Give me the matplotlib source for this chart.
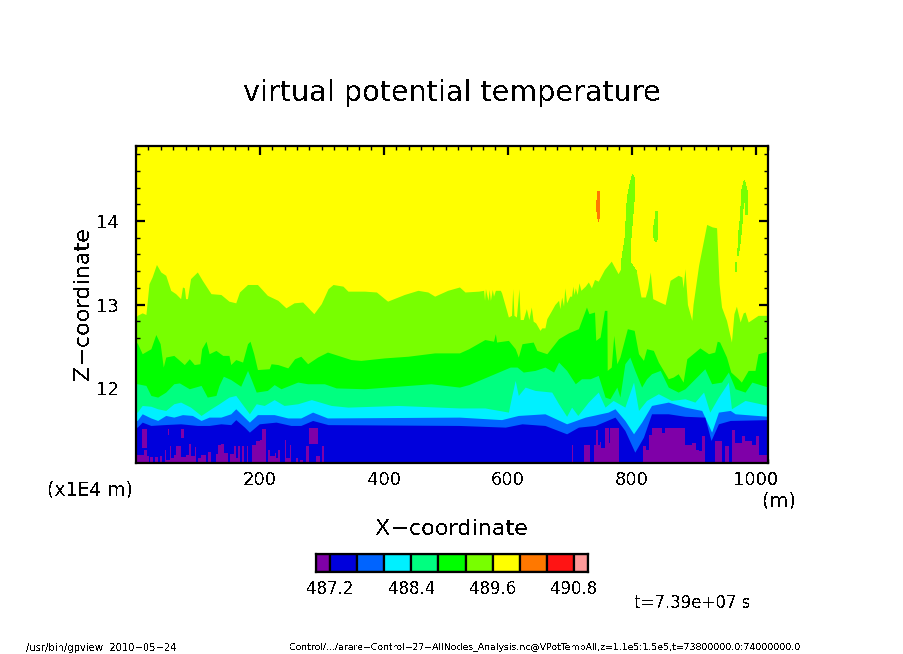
import matplotlib
matplotlib.use("Agg")
import matplotlib.pyplot as plt
from matplotlib.ticker import MultipleLocator

# contour-band colours, low to high
band_colors = ["#7f00a8", "#0000dc", "#0064ff", "#00f0ff", "#00ff80", "#00ff00",
               "#78ff00", "#ffff00", "#ff7800", "#ff1414", "#ff9999"]
levels = [487.2, 487.6, 488.0, 488.4, 488.8, 489.2, 489.6, 490.0, 490.4, 490.8]
level_ticks = [487.2, 488.4, 489.6, 490.8]
x_ticks = [200, 400, 600, 800, 1000]

# top of lime band (x in m, z in 1e4 m)
lime_x = [0,2,10,16,21,26,33,40,48,56,64,72,75,78,80,83,88,99,107,121,137,150,161,167,180,196,212,229,242,255,269,287,299,310,318,334,342,369,388,406,433,455,471,482,503,522,531,553,561,562.5,564,566,568,570,572,575,577,580,588,590,598,601,606,608,610,614,618,620,625,630,634,638,641,645,652,655,660,663,670,676,682,684,687,690,692,695,700,703,705,707,709,712,715,718,725,730,735,740,746,756,767,778,784,790,800,808,815,822,826,830,834,845,854,862,875,881,883,886,890,897,899,908,921,930,937,941,945,953,961,965,969,975,980,983,988,1004,1020]
lime_z = [12.85,12.87,12.90,12.88,13.25,13.33,13.48,13.39,13.35,13.17,13.13,13.07,13.21,13.2,13.07,13.07,13.31,13.39,13.29,13.13,13.12,13.04,13.02,13.15,13.24,13.24,13.11,13.05,12.96,13.02,13.03,12.89,13.01,13.19,13.24,13.22,13.16,13.16,13.15,13.04,13.12,13.17,13.15,13.10,13.17,13.21,13.15,13.16,13.17,13.05,13.19,13.12,13.05,13.18,13.05,13.18,13.1,13.17,13.17,13.14,12.93,12.85,12.87,13.19,12.87,12.85,13.19,12.82,12.82,12.95,12.82,12.97,12.8,12.78,12.69,12.72,12.72,12.83,12.92,13.0,13.05,12.95,13.09,12.98,13.2,13.02,13.1,13.1,13.22,13.12,13.2,13.12,13.26,13.17,13.22,13.27,13.2,13.3,13.28,13.42,13.52,13.37,13.45,13.4,13.4,13.38,13.09,13.09,13.2,13.39,13.07,13.03,13.0,13.29,13.35,13.33,13.2,13.43,13.0,12.81,13.0,13.47,13.96,13.93,13.92,13.25,12.97,12.81,12.55,12.89,12.98,12.79,12.9,12.91,12.79,12.87,12.87]

# top of green band
green_x = [0,2,10,24,32,39,44,48,61,78,86,94,103,106,113,118,129,140,150,153,161,172,180,184,190,196,215,218,229,245,256,266,277,293,309,326,347,363,401,439,482,522,537,563,577,580,582,601,612,617,623,641,647,663,682,698,714,727,731,740,742,749,756,760,760.5,767,771,776,781,793,804,811,819,824,835,843,859,867,875,883,889,902,910,924,934,938,942,953,960,972,977,988,999,1004,1020]
green_z = [12.54,12.54,12.41,12.47,12.64,12.53,12.25,12.37,12.39,12.28,12.35,12.28,12.29,12.47,12.56,12.41,12.45,12.39,12.39,12.28,12.34,12.31,12.53,12.56,12.41,12.22,12.23,12.29,12.28,12.24,12.35,12.38,12.29,12.37,12.43,12.39,12.34,12.33,12.36,12.38,12.42,12.42,12.47,12.58,12.56,12.65,12.55,12.57,12.47,12.37,12.53,12.55,12.45,12.41,12.59,12.66,12.71,12.97,12.89,12.91,12.57,12.61,12.93,12.93,12.21,12.25,12.63,12.29,12.37,12.71,12.69,12.41,12.33,12.47,12.45,12.31,12.11,12.13,12.17,12.07,12.35,12.43,12.48,12.41,12.43,12.56,12.55,12.37,12.19,12.11,12.07,12.21,12.21,12.41,12.44]

# top of spring-green band
spring_x = [0,2,16,24,35,48,61,70,86,105,115,129,134,141,153,169,180,185,194,212,223,234,261,277,304,323,369,422,476,522,537,569,604,615,625,644,660,674,682,695,709,719,733,746,757,765,776,781,789,797,805,816,824,832,846,859,875,886,902,918,929,945,956,967,983,994,1020]
spring_z = [12.05,12.05,12.03,11.91,11.89,11.95,12.05,12.06,11.99,12.03,11.89,11.91,12.03,12.14,12.10,12.02,12.21,12.12,11.95,11.97,12.04,11.99,12.07,12.05,12.05,12.0,11.99,12.02,12.05,12.01,12.04,12.14,12.25,12.25,12.19,12.21,12.25,12.19,12.31,12.21,12.05,12.11,12.11,12.15,11.89,11.87,12.01,11.89,12.29,12.37,12.21,12.01,12.11,12.17,12.21,12.01,11.95,11.99,12.11,12.23,12.05,12.07,12.19,11.99,11.95,12.07,12.01]

# top of cyan band
cyan_x = [0,2,10,24,35,48,61,72,88,105,121,134,150,161,175,183,194,207,223,239,261,283,315,342,423,522,563,601,606,612,617,628,644,671,682,695,703,713,730,746,757,770,789,803,811,824,843,864,886,902,916,926,940,956,961,983,1020]
cyan_z = [11.71,11.71,11.79,11.78,11.75,11.73,11.81,11.83,11.77,11.67,11.75,11.81,11.89,11.91,11.77,11.69,11.81,11.79,11.86,11.79,11.81,11.86,11.79,11.77,11.79,11.76,11.76,11.71,11.89,12.09,11.91,12.01,11.97,11.95,11.81,11.66,11.77,11.67,11.83,11.95,11.77,11.85,11.77,12.07,11.73,11.85,11.93,11.85,11.87,11.83,11.95,11.71,11.89,12.07,11.75,11.85,11.79]

# top of azure band
azure_x = [0,2,10,24,35,48,61,75,91,105,118,137,153,161,172,183,196,223,245,266,285,309,522,590,617,660,695,725,762,773,789,803,816,832,859,886,913,929,940,959,967,1020]
azure_z = [11.61,11.61,11.69,11.64,11.61,11.67,11.65,11.68,11.67,11.61,11.65,11.65,11.69,11.75,11.67,11.59,11.68,11.68,11.64,11.64,11.71,11.64,11.65,11.62,11.67,11.69,11.57,11.65,11.71,11.75,11.61,11.45,11.59,11.79,11.83,11.77,11.73,11.47,11.71,11.73,11.69,11.66]

# top of dark-blue band
blue_x = [0,2,10,24,45,72,99,118,137,153,161,175,183,199,226,250,266,285,310,522,596,623,660,695,714,741,773,789,805,819,832,859,886,918,928,940,959,1020]
blue_z = [11.53,11.53,11.59,11.55,11.56,11.57,11.55,11.55,11.57,11.56,11.62,11.53,11.47,11.57,11.59,11.55,11.55,11.61,11.56,11.55,11.53,11.57,11.55,11.45,11.53,11.55,11.65,11.49,11.23,11.41,11.69,11.69,11.66,11.65,11.37,11.57,11.61,11.62]

# purple band rising from the lower axis (steps)
purple_x = [0.6,12.4,18.4,21,23.2,27.5,30.2,35.6,38.3,42,46.3,49,54.4,57,61.4,65,72,80,85.6,89.4,94.8,97.4,100,105.5,112.5,116,121.6,128.6,132.4,137.8,142,148.5,151,157.7,161,164.7,167.4,171.7,174,179,181.4,187.8,194,199.7,204,210,213,215.8,223.9,226.6,229,232,240,241.6,248,250,257.8,261.5,264,269.6,275,280,290,297.6,300,304,703.9,706,722.7,732.4,738.9,743,745.3,748.5,750.7,757.7,763,765.8,779,818.5,823.9,827.6,832,849,853,878.7,886.8,897.6,904.6,908.3,913.7,918,935,946,951,956.8,962,967.5,978,983.6,994,1000,1005,1010.6,1018.6,1020]
purple_z = [11.19,11.26,11.18,11.1,11.17,11.1,11.17,11.1,11.18,11.1,11.25,11.14,11.30,11.16,11.20,11.30,11.17,11.19,11.33,11.18,11.29,11.1,11.16,11.20,11.1,11.23,11.1,11.21,11.31,11.33,11.22,11.1,11.21,11.30,11.16,11.30,11.1,11.30,11.1,11.30,11.1,11.31,11.36,11.38,11.51,11.1,11.26,11.18,11.22,11.16,11.26,11.1,11.38,11.16,11.31,11.1,11.16,11.1,11.14,11.1,11.30,11.1,11.18,11.1,11.30,11.1,11.31,11.1,11.31,11.1,11.32,11.50,11.32,11.35,11.28,11.52,11.34,11.52,11.1,11.30,11.26,11.44,11.52,11.46,11.52,11.52,11.32,11.34,11.26,11.24,11.42,11.1,11.36,11.1,11.30,11.1,11.49,11.34,11.42,11.36,11.32,11.42,11.2,11.2,11.1,11.1]

# detached purple blobs
blob_x0 = [9, 51, 73, 280]
blob_x1 = [18, 53, 77, 294]
blob_lo = [11.28, 11.44, 11.40, 11.33]
blob_hi = [11.51, 11.51, 11.51, 11.52]

# detached lime plumes and one orange patch
spire_x = [784,789.3,793,797.3,801.6,804.3,804.3,801.6,798.4,797.3,808,784]
spire_z = [13.53,13.80,14.28,14.44,14.56,14.52,14.28,14.04,13.76,13.51,13.39,13.3]
plume1_x = [835,838,839,842,842,839,836,835]
plume1_z = [13.9,14.04,14.11,14.11,13.8,13.75,13.8,13.88]
plume2_x = [971,973.1,975.8,977.4,981.7,986.5,987.1,983.9,982.8,980,978.5,975.3,972]
plume2_z = [13.59,13.88,14.06,14.36,14.49,14.36,14.08,14.08,14.24,14.20,14.0,13.76,13.59]
plume3_x = [967,969,968.5,967]
plume3_z = [13.5,13.5,13.39,13.39]
orange_x = [745,748,748,746.5,745.5,744,744]
orange_z = [14.35,14.35,14.05,14.0,14.03,14.12,14.25]

W, H = 904, 654
plt.rcParams["font.family"] = ["DejaVu Sans"]
plt.rcParams["text.antialiased"] = False
fig = plt.figure(figsize=(W / 100, H / 100), dpi=100, facecolor="white")

def box(l, t, r, b):
    return [l / W, 1 - b / H, (r - l) / W, (b - t) / H]

def px_text(x, y, s, **kw):
    kw.setdefault("ha", "center")
    kw.setdefault("va", "center")
    kw.setdefault("color", "black")
    fig.text(x / W, 1 - y / H, s, **kw)

ax = fig.add_axes(box(136, 146, 768, 463))
ZMIN, ZMAX = 11.1, 14.9
XMIN, XMAX = 0, 1020
ax.set_xlim(XMIN, XMAX)
ax.set_ylim(ZMIN, ZMAX)
ax.set_facecolor(band_colors[7])

fill_kw = dict(linewidth=0, antialiased=False)
bands = [(lime_x, lime_z, 6), (green_x, green_z, 5), (spring_x, spring_z, 4),
         (cyan_x, cyan_z, 3), (azure_x, azure_z, 2), (blue_x, blue_z, 1)]
for poly_x, poly_z in [(spire_x, spire_z), (plume1_x, plume1_z), (plume2_x, plume2_z), (plume3_x, plume3_z)]:
    ax.fill(poly_x, poly_z, color=band_colors[6], zorder=1, **fill_kw)
ax.fill(orange_x, orange_z, color=band_colors[8], zorder=1, **fill_kw)
for i, (bx, bz, c) in enumerate(bands):
    ax.fill_between(bx, ZMIN, bz, color=band_colors[c], zorder=2 + i, **fill_kw)
ax.fill_between(purple_x, ZMIN, purple_z, step="post", color=band_colors[0], zorder=9, **fill_kw)
for a, b, lo, hi in zip(blob_x0, blob_x1, blob_lo, blob_hi):
    ax.fill_between([a, b], lo, hi, color=band_colors[0], zorder=9, **fill_kw)

for s in ax.spines.values():
    s.set_linewidth(1.6)
    s.set_zorder(20)
ax.set_xticks(x_ticks)
ax.xaxis.set_minor_locator(MultipleLocator(20))
ax.yaxis.set_major_locator(MultipleLocator(1))
ax.yaxis.set_minor_locator(MultipleLocator(0.2))
ax.tick_params(which="major", direction="in", length=6.5, width=1.6, top=True, right=True,
               labelsize=13, pad=6)
ax.tick_params(which="minor", direction="in", length=3.2, width=1, top=True, right=True)
ax.tick_params(axis="y", pad=12.5)
ax.set_axisbelow(False)

px_text(452, 93, "virtual potential temperature", fontsize=20.6)
px_text(452, 529, "X\u2212coordinate", fontsize=16)
px_text(83, 304, "Z\u2212coordinate", fontsize=16, rotation=90)
px_text(90, 490, "(x1E4 m)", fontsize=13.5)
px_text(779, 501, "(m)", fontsize=14)
px_text(692, 603, "t=7.39e+07 s", fontsize=12)
px_text(101, 648, "/usr/bin/gpview  2010\u221205\u221224", fontsize=7.2)
px_text(545, 648, "Control/.../arare\u2212Control\u221227\u2212AllNodes_Analysis.nc@VPotTempAll,z=1.1e5:1.5e5,t=73800000.0:74000000.0", fontsize=6.75)

# colour bar: regular boxes span one level step, end boxes are about half of one
step = levels[1] - levels[0]
end = 0.53 * step
cax = fig.add_axes(box(316, 554, 588, 572))
edges = [levels[0] - end] + levels + [levels[-1] + end]
for c, a, b in zip(band_colors, edges[:-1], edges[1:]):
    cax.bar(a, 1, width=b - a, align="edge", color=c, edgecolor="black", linewidth=1.6)
cax.set_xlim(edges[0], edges[-1])
cax.set_ylim(0, 1)
cax.set_yticks([])
cax.set_xticks(level_ticks)
cax.set_xticklabels([f"{v:.1f}" for v in level_ticks])
cax.tick_params(axis="x", length=0, labelsize=12, pad=6)
for s in cax.spines.values():
    s.set_linewidth(1.6)

fig.savefig("out.png", dpi=100)
